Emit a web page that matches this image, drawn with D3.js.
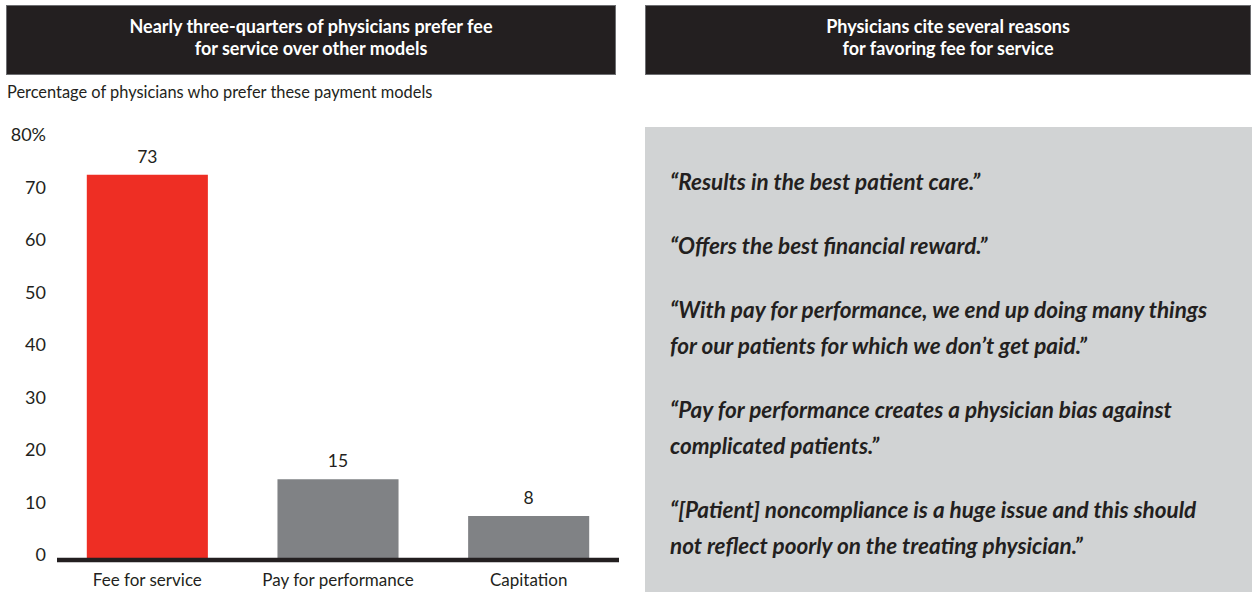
<!DOCTYPE html>
<html lang="en">
<head>
  <meta charset="UTF-8">
  <title>Physician payment model preferences</title>
  <script src="https://d3js.org/d3.v7.min.js"></script>
  <style>
    body { margin: 0; background: #fff; font-family: Lato, "Open Sans", sans-serif; }
    svg { display: block; }
  </style>
</head>
<body>
  <script>
    const categories = ["Fee for service", "Pay for performance", "Capitation"];
    const values = [73, 15, 8];
    const yTicks = [0, 10, 20, 30, 40, 50, 60, 70, 80];

    const leftTitle = ["Nearly three-quarters of physicians prefer fee", "for service over other models"];
    const rightTitle = ["Physicians cite several reasons", "for favoring fee for service"];
    const subtitle = "Percentage of physicians who prefer these payment models";

    const quotes = [
      ["\u201CResults in the best patient care.\u201D"],
      ["\u201COffers the best financial reward.\u201D"],
      ["\u201CWith pay for performance, we end up doing many things", "for our patients for which we don\u2019t get paid.\u201D"],
      ["\u201CPay for performance creates a physician bias against", "complicated patients.\u201D"],
      ["\u201C[Patient] noncompliance is a huge issue and this should", "not reflect poorly on the treating physician.\u201D"]
    ];

    const dark = "#231f20";
    const W = 1252, H = 592;

    const svg = d3.select("body").append("svg")
      .attr("width", W)
      .attr("height", H);

    // header bars
    const headers = [
      { x: 6, w: 610, lines: leftTitle },
      { x: 645, w: 606, lines: rightTitle }
    ];
    headers.forEach(h => {
      svg.append("rect")
        .attr("x", h.x + 0.5).attr("y", 5.5)
        .attr("width", h.w - 1).attr("height", 69)
        .attr("fill", dark)
        .attr("stroke", "#6d6e71")
        .attr("stroke-width", 1);
      svg.append("text")
        .attr("x", h.x + h.w / 2)
        .attr("y", 33)
        .attr("text-anchor", "middle")
        .attr("fill", "#fff")
        .attr("font-size", 18)
        .attr("font-weight", "bold")
        .selectAll("tspan")
        .data(h.lines)
        .join("tspan")
        .attr("x", h.x + h.w / 2)
        .attr("dy", (d, i) => i === 0 ? 0 : 22)
        .text(d => d);
    });

    svg.append("text")
      .attr("x", 7)
      .attr("y", 98)
      .attr("fill", dark)
      .attr("font-size", 16.4)
      .text(subtitle);

    // bar chart
    const x = d3.scaleBand()
      .domain(categories)
      .range([52, 624])
      .paddingInner(0.365)
      .paddingOuter(0.1825);

    const y = d3.scaleLinear()
      .domain([0, 80])
      .range([558, 138]);

    const yAxis = svg.append("g")
      .attr("transform", "translate(46,-3)")
      .call(d3.axisLeft(y).tickValues(yTicks).tickSize(0).tickPadding(0)
        .tickFormat(d => d === 80 ? "80%" : d));
    yAxis.select(".domain").remove();
    yAxis.selectAll("text")
      .attr("fill", dark)
      .attr("font-size", 18)
      .attr("font-family", "Lato, sans-serif");

    svg.append("g")
      .selectAll("rect")
      .data(values)
      .join("rect")
      .attr("x", (d, i) => x(categories[i]))
      .attr("y", d => y(d))
      .attr("width", x.bandwidth())
      .attr("height", d => y(0) - y(d))
      .attr("fill", (d, i) => i === 0 ? "#ee2e24" : "#808285");

    svg.append("g")
      .selectAll("text")
      .data(values)
      .join("text")
      .attr("x", (d, i) => x(categories[i]) + x.bandwidth() / 2)
      .attr("y", d => y(d) - 12)
      .attr("text-anchor", "middle")
      .attr("fill", dark)
      .attr("font-size", 17.5)
      .text(d => d);

    svg.append("line")
      .attr("x1", 57).attr("x2", 619)
      .attr("y1", 560).attr("y2", 560)
      .attr("stroke", dark)
      .attr("stroke-width", 4.5);

    const xAxis = svg.append("g")
      .attr("transform", "translate(0,574)")
      .call(d3.axisBottom(x).tickSize(0).tickPadding(0));
    xAxis.select(".domain").remove();
    xAxis.selectAll("text")
      .attr("fill", dark)
      .attr("font-size", 17)
      .attr("font-family", "Lato, sans-serif");

    // quotes panel
    svg.append("rect")
      .attr("x", 645).attr("y", 127)
      .attr("width", W - 645).attr("height", H - 127)
      .attr("fill", "#d1d3d4");

    const quoteTop = [190, 254, 318, 418, 518];
    svg.append("g")
      .selectAll("text")
      .data(quotes)
      .join("text")
      .attr("x", 670)
      .attr("y", (d, i) => quoteTop[i])
      .attr("fill", dark)
      .attr("font-size", 22.5)
      .attr("font-weight", "bold")
      .attr("font-style", "italic")
      .each(function(lines) {
        d3.select(this).selectAll("tspan")
          .data(lines)
          .join("tspan")
          .attr("x", 670)
          .attr("dy", (d, i) => i === 0 ? 0 : 36)
          .text(d => d);
      });
  </script>
</body>
</html>
